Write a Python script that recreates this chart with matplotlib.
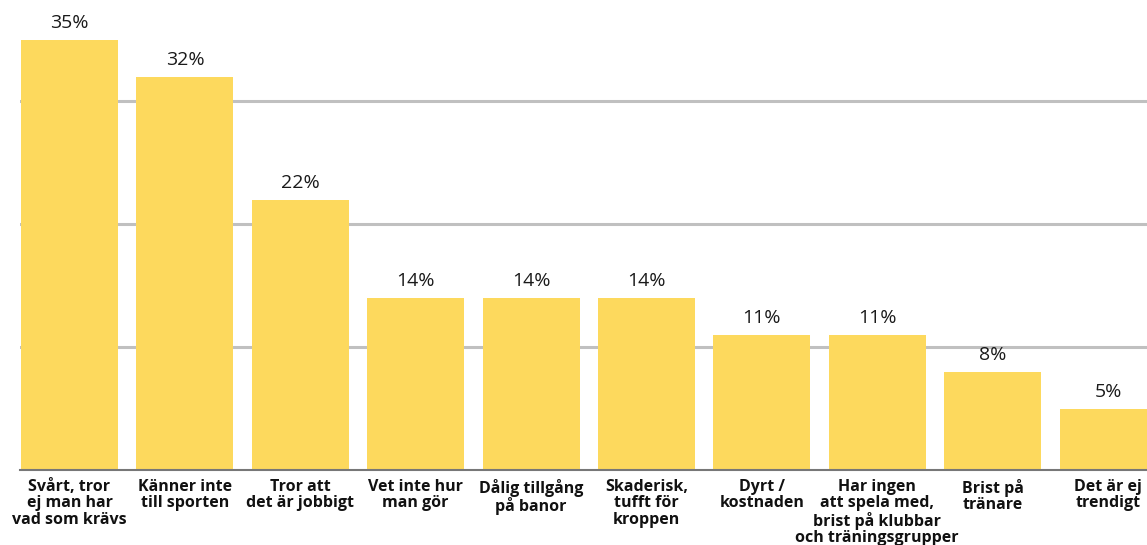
import matplotlib.pyplot as plt

categories = [
    "Svårt, tror\nej man har\nvad som krävs",
    "Känner inte\ntill sporten",
    "Tror att\ndet är jobbigt",
    "Vet inte hur\nman gör",
    "Dålig tillgång\npå banor",
    "Skaderisk,\ntufft för\nkroppen",
    "Dyrt /\nkostnaden",
    "Har ingen\natt spela med,\nbrist på klubbar\noch träningsgrupper",
    "Brist på\ntränare",
    "Det är ej\ntrendigt",
]
values = [35, 32, 22, 14, 14, 14, 11, 11, 8, 5]

BAR_COLOR = "#FDD95D"

fig = plt.figure(figsize=(11.47, 5.45), dpi=100)
ax = fig.add_axes([20 / 1147, 75 / 545, 1127 / 1147, 470 / 545])

x = list(range(len(values)))
ax.bar(x, values, width=0.84, color=BAR_COLOR, zorder=2)

for xi, v in zip(x, values):
    ax.text(xi, v + 0.65, f"{v}%", ha="center", va="bottom",
            fontsize=14, family="Open Sans", color="#1a1a1a")

for xi, label in zip(x, categories):
    ax.text(xi, -0.75, label, ha="center", va="top", fontsize=11.5,
            fontweight="bold", family="Open Sans", color="#111111",
            linespacing=1.02)

ax.set_xlim(-0.429, 9.337)
ax.set_ylim(0, 38.25)
ax.set_yticks([10, 20, 30])
ax.yaxis.grid(True, color="#C0C0C0", linewidth=2.2, zorder=1)
ax.tick_params(left=False, bottom=False, labelleft=False, labelbottom=False)
for side in ["top", "right", "left"]:
    ax.spines[side].set_visible(False)
ax.spines["bottom"].set_color("#777777")
ax.spines["bottom"].set_linewidth(1.5)
ax.spines["bottom"].set_zorder(3)
ax.set_axisbelow(True)

fig.savefig("out.png", dpi=100)
